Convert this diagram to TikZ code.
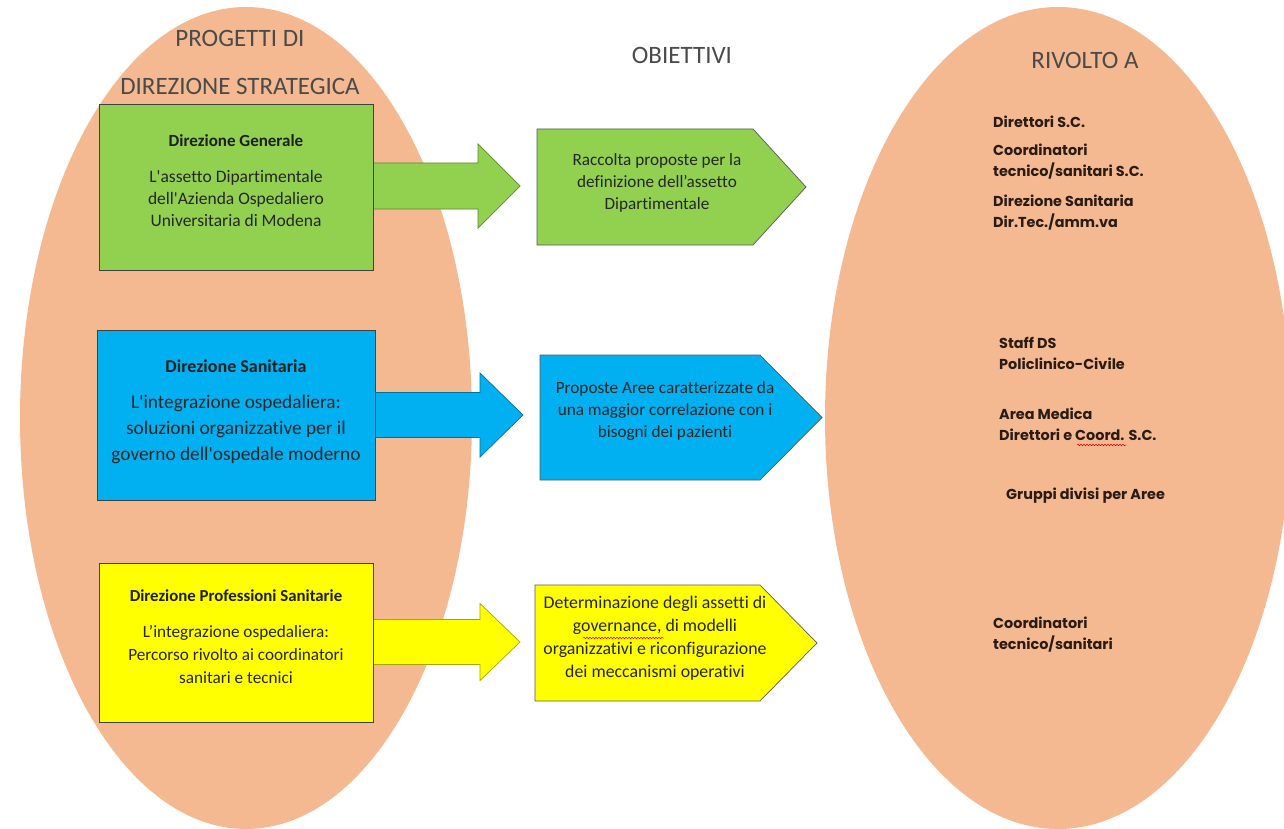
\documentclass[tikz,border=0pt]{standalone}
\usepackage{fontspec}
\setmainfont{Carlito}[Ligatures={NoCommon}]
\newfontfamily\gothic{Poppins}
\usetikzlibrary{shapes.geometric,decorations.pathmorphing,calc}
\definecolor{peach}{HTML}{F4B990}
\definecolor{cgreen}{HTML}{92D050}
\definecolor{cblue}{HTML}{00B0F0}
\definecolor{cyellow}{HTML}{FFFF00}
\definecolor{hdrgray}{HTML}{4A4A4A}
\definecolor{rtext}{HTML}{2A1C14}
\newcommand\sq{\textquotesingle}
\newcommand\blkarrow[7]{% color, ycenter, x0, xhead, xtip, halfshaft, halfhead
  \draw[arrowbody, fill=#1, draw=#1!65!black] (#3,#2-#6) -- (#4,#2-#6) -- (#4,#2-#7) -- (#5,#2) -- (#4,#2+#7) -- (#4,#2+#6) -- (#3,#2+#6) -- cycle;}
\newcommand\pentshape[6]{% color, x0, ytop, xcorner, xtip, ybottom
  \draw[pentbody, fill=#1] (#2,#3) -- (#4,#3) -- (#5,{(#3+#6)/2}) -- (#4,#6) -- (#2,#6) -- cycle;}
\begin{document}
\begin{tikzpicture}[x=1pt,y=-1pt,
  oval/.style={ellipse, fill=peach, draw=none, inner sep=0pt},
  boxbody/.style={draw=black!75, line width=0.8pt, inner sep=0pt},
  arrowbody/.style={line width=0.7pt},
  pentbody/.style={draw=black!65, line width=0.7pt},
  hdrtxt/.style={font=\fontsize{25}{28}\selectfont, text=hdrgray, inner sep=0pt},
  ttl/.style={font=\bfseries\fontsize{17}{20}\selectfont, text=black!88, inner sep=0pt},
  body/.style={font=\fontsize{17.5}{22}\selectfont, align=center, text=black!85, inner sep=0pt},
  bigbody/.style={font=\fontsize{19.3}{26}\selectfont, align=center, text=black!85, inner sep=0pt},
  obj/.style={font=\fontsize{17.2}{22}\selectfont, align=center, text=black!85, inner sep=0pt},
  rt/.style={font=\gothic\bfseries\fontsize{14.4}{21}\selectfont, align=left, text=rtext, anchor=west, inner sep=0pt},
  squig/.style={red!85!black, line width=0.5pt, decorate, decoration={snake, segment length=3pt, amplitude=0.8pt}}
]
\useasboundingbox[fill=white] (0,0) rectangle (1284,829);

% ovals
\node[oval, minimum width=452, minimum height=822] (leftoval) at (246,418) {};
\node[oval, minimum width=466, minimum height=822] (rightoval) at (1058,418) {};

% headers
\node[hdrtxt] (h1) at (240,38) {PROGETTI DI};
\node[hdrtxt] (h2) at (240,86) {DIREZIONE STRATEGICA};
\node[hdrtxt] (h3) at (682,55) {OBIETTIVI};
\node[hdrtxt] (h4) at (1085,60) {RIVOLTO A};

% block arrows
\blkarrow{cgreen}{186}{373}{478}{520}{23}{42}
\blkarrow{cblue}{415}{375}{480}{523}{22.5}{42}
\blkarrow{cyellow}{642}{373}{480}{520}{22.5}{38.5}

% left boxes
\node[boxbody, fill=cgreen, minimum width=274, minimum height=166] (gbox) at (236,187) {};
\node[boxbody, fill=cblue, minimum width=278, minimum height=170] (bbox) at (236,415) {};
\node[boxbody, fill=cyellow, minimum width=274, minimum height=159] (ybox) at (236,642.5) {};

\node[ttl] (gt) at (236,141) {Direzione Generale};
\node[body] (gb) at (236,198) {L\sq assetto Dipartimentale\\dell\sq Azienda Ospedaliero\\Universitaria di Modena};
\node[ttl, font=\bfseries\fontsize{18}{21}\selectfont] (bt) at (236,366) {Direzione Sanitaria};
\node[bigbody] (bb) at (236,429) {L\sq integrazione ospedaliera:\\soluzioni organizzative per il\\governo dell\sq ospedale moderno};
\node[ttl, font=\bfseries\fontsize{16.8}{20}\selectfont] (yt) at (236,596) {Direzione Professioni Sanitarie};
\node[body, font=\fontsize{17.2}{23}\selectfont] (yb) at (236,654) {L’integrazione ospedaliera:\\Percorso rivolto ai coordinatori\\sanitari e tecnici};

% objective pentagons
\pentshape{cgreen}{537}{129}{753}{806}{245}
\pentshape{cblue}{540}{355}{760}{822}{480}
\pentshape{cyellow}{535}{585}{760}{817}{701}

\node[obj] (go) at (657,183) {Raccolta proposte per la\\definizione dell’assetto\\Dipartimentale};
\node[obj] (bo) at (665,411) {Proposte Aree caratterizzate da\\una maggior correlazione con i\\bisogni dei pazienti};
\node[obj, font=\fontsize{17.8}{23}\selectfont] (yo) at (655,638.5) {Determinazione degli assetti di\\governance, di modelli\\organizzativi e riconfigurazione\\dei meccanismi operativi};
\coordinate (sq1a) at (583,638);
\coordinate (sq1b) at (664,638);
\draw[squig] (sq1a) -- (sq1b);

% right texts
\node[rt] (r1) at (993,122) {Direttori S.C.};
\node[rt] (r2) at (993,161.5) {Coordinatori\\tecnico/sanitari S.C.};
\node[rt] (r3) at (993,212.5) {Direzione Sanitaria\\Dir.Tec./amm.va};
\node[rt] (r4) at (999,353) {Staff DS\\Policlinico-Civile};
\node[rt] (r5) at (999,424.5) {Area Medica\\Direttori e Coord. S.C.};
\node[rt] (r6) at (1006,496) {Gruppi divisi per Aree};
\node[rt] (r7) at (993,635) {Coordinatori\\tecnico/sanitari};
\coordinate (sq2a) at (1077,445);
\coordinate (sq2b) at (1126,445);
\draw[squig] (sq2a) -- (sq2b);
\end{tikzpicture}
\end{document}
